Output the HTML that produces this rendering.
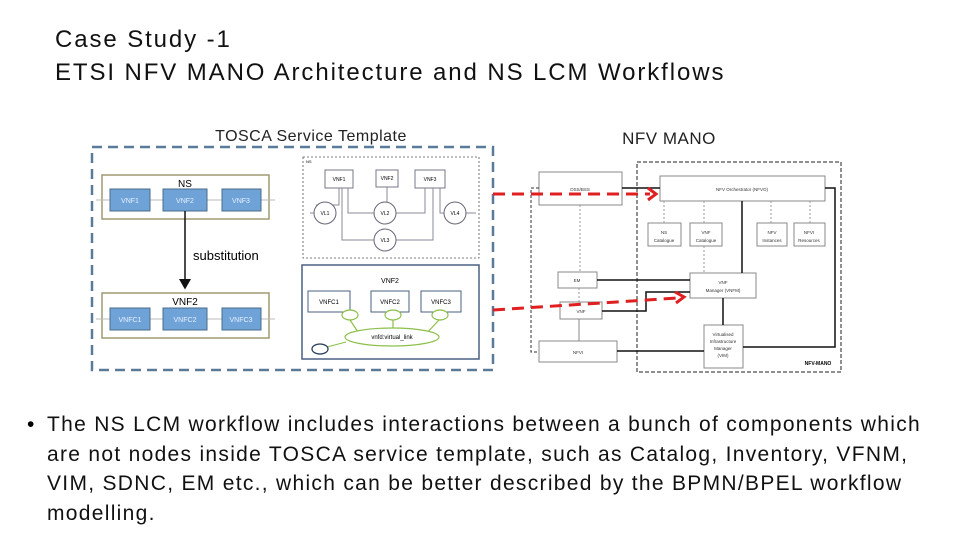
<!DOCTYPE html>
<html><head><meta charset="utf-8"><style>
body{margin:0;width:960px;height:540px;background:#fff;overflow:hidden;font-family:"Liberation Sans",sans-serif;position:relative}
.t{position:absolute;left:55px;font-size:24px;color:#111;line-height:33px;top:23px;letter-spacing:1.9px}
.b{position:absolute;left:47px;top:410px;font-size:21px;line-height:29.5px;color:#111;width:910px;letter-spacing:1.3px;white-space:nowrap}
.bu{position:absolute;left:27px;top:410px;font-size:21px;line-height:29.5px}
</style></head><body>
<div class="t">Case Study -1<br>ETSI NFV MANO Architecture and NS LCM Workflows</div>
<svg width="960" height="540" style="position:absolute;left:0;top:0" font-family="Liberation Sans, sans-serif">
<defs><marker id="a" markerWidth="8" markerHeight="8" refX="6" refY="4" orient="auto"><path d="M0,0 L7,4 L0,8" fill="#111"/></marker></defs>
<text x="311" y="141" font-size="16" text-anchor="middle" fill="#222" letter-spacing="0.5">TOSCA Service Template</text>
<rect x="92" y="147" width="401" height="223" fill="none" stroke="#5a7a99" stroke-width="2.5" stroke-dasharray="10,6"/>
<rect x="102" y="175" width="167" height="44" fill="#fff" stroke="#a09a70" stroke-width="1.5"/>
<text x="185" y="187" font-size="10" text-anchor="middle">NS</text>
<line x1="96" y1="200" x2="275" y2="200" stroke="#bbb"/>
<g fill="#6fa3d8" stroke="#4a6b8a"><rect x="110" y="189" width="40" height="22"/><rect x="163" y="189" width="44" height="22"/><rect x="222" y="189" width="39" height="22"/></g>
<g font-size="7" fill="#e8f0ff" text-anchor="middle"><text x="130" y="203">VNF1</text><text x="185" y="203">VNF2</text><text x="241" y="203">VNF3</text></g>
<rect x="102" y="293" width="167" height="45" fill="#fff" stroke="#a09a70" stroke-width="1.5"/>
<text x="185" y="305" font-size="10" text-anchor="middle">VNF2</text>
<line x1="96" y1="319" x2="275" y2="319" stroke="#bbb"/>
<g fill="#6fa3d8" stroke="#4a6b8a"><rect x="110" y="308" width="40" height="22"/><rect x="163" y="308" width="44" height="22"/><rect x="222" y="308" width="39" height="22"/></g>
<g font-size="7" fill="#e8f0ff" text-anchor="middle"><text x="130" y="322">VNFC1</text><text x="185" y="322">VNFC2</text><text x="241" y="322">VNFC3</text></g>
<line x1="185" y1="211" x2="185" y2="288" stroke="#111" stroke-width="1.5" marker-end="url(#a)"/>
<text x="193" y="260" font-size="13">substitution</text>
<rect x="303" y="157" width="176" height="101" fill="none" stroke="#555" stroke-width="0.8" stroke-dasharray="2,2"/>
<text x="306" y="163" font-size="4">NS</text>
<g fill="#fff" stroke="#778"><rect x="325" y="170" width="28" height="18"/><rect x="376" y="170" width="22" height="17"/><rect x="415" y="170" width="30" height="18"/></g>
<g stroke="#889" fill="none"><path d="M339,188 V205 H316"/><path d="M348,188 V213 H374"/><path d="M342,188 V240 H374"/><path d="M387,187 V202"/><path d="M425,188 V213 H396"/><path d="M433,188 V240 H396"/><path d="M440,188 V213 H444"/><line x1="310" y1="213" x2="314" y2="213"/><line x1="466" y1="213" x2="476" y2="213"/></g>
<g fill="#fff" stroke="#667"><circle cx="325" cy="213" r="11"/><circle cx="385" cy="213" r="11"/><circle cx="385" cy="240" r="11"/><circle cx="455" cy="213" r="11"/></g>
<g font-size="5" text-anchor="middle"><text x="339" y="181">VNF1</text><text x="387" y="180">VNF2</text><text x="430" y="181">VNF3</text><text x="325" y="215">VL1</text><text x="385" y="215">VL2</text><text x="385" y="242">VL3</text><text x="455" y="215">VL4</text></g>
<rect x="302" y="265" width="177" height="94" fill="#fff" stroke="#4a6080" stroke-width="1.5"/>
<text x="390" y="283" font-size="7" text-anchor="middle">VNF2</text>
<g fill="#fff" stroke="#4a6080"><rect x="308" y="291" width="42" height="21"/><rect x="371" y="291" width="38" height="21"/><rect x="421" y="291" width="40" height="21"/></g>
<g font-size="6" text-anchor="middle"><text x="329" y="304">VNFC1</text><text x="390" y="304">VNFC2</text><text x="441" y="304">VNFC3</text></g>
<g stroke="#8cbf4a" fill="#fff" stroke-width="1.2"><line x1="350" y1="320" x2="360" y2="335"/><line x1="393" y1="320" x2="393" y2="330"/><line x1="439" y1="320" x2="425" y2="335"/><ellipse cx="392" cy="337" rx="47" ry="9"/><ellipse cx="350" cy="315" rx="8" ry="5"/><ellipse cx="393" cy="315" rx="8" ry="5"/><ellipse cx="440" cy="315" rx="8" ry="5"/></g>
<line x1="327" y1="347" x2="346" y2="342" stroke="#8cbf4a"/>
<ellipse cx="320" cy="349" rx="8" ry="5" fill="#fff" stroke="#2a3f5f" stroke-width="1.3"/>
<text x="392" y="339" font-size="6" text-anchor="middle">vnfd:virtual_link</text>
<text x="669" y="144" font-size="17" text-anchor="middle" fill="#222" letter-spacing="0.5">NFV MANO</text>
<rect x="637" y="162" width="204" height="210" fill="none" stroke="#222" stroke-dasharray="4,2"/>
<g fill="#fff" stroke="#888"><rect x="539" y="172" width="83" height="33"/><rect x="660" y="176" width="165" height="25"/>
<rect x="648" y="223" width="33" height="23"/><rect x="690" y="223" width="32" height="23"/><rect x="757" y="223" width="30" height="23"/><rect x="794" y="223" width="31" height="23"/>
<rect x="558" y="272" width="39" height="16"/><rect x="560" y="302" width="42" height="17"/><rect x="539" y="341" width="78" height="21"/>
<rect x="690" y="273" width="66" height="25"/><rect x="704" y="325" width="39" height="43"/></g>
<g stroke="#111" fill="none" stroke-width="1.5"><line x1="622" y1="188" x2="660" y2="188"/><line x1="742" y1="201" x2="742" y2="273"/><path d="M825,188 H835 V347 H743"/><line x1="597" y1="280" x2="690" y2="280"/><path d="M602,311 H646 V292 H690"/><line x1="723" y1="298" x2="723" y2="325"/><line x1="617" y1="351" x2="704" y2="351"/></g>
<g stroke="#999" stroke-dasharray="2,2" fill="none"><line x1="580" y1="205" x2="580" y2="272"/><line x1="664" y1="201" x2="664" y2="223"/><line x1="704" y1="201" x2="704" y2="223"/><line x1="704" y1="246" x2="704" y2="273"/><line x1="771" y1="201" x2="771" y2="223"/><line x1="810" y1="201" x2="810" y2="223"/><line x1="579" y1="288" x2="579" y2="302"/></g>
<path d="M539,188 H531 V352 H539" fill="none" stroke="#333" stroke-dasharray="3,2"/>
<line x1="579" y1="319" x2="579" y2="341" stroke="#888"/>
<g font-size="4.5" text-anchor="middle" fill="#333"><text x="580" y="191">OSS/BSS</text><text x="742" y="191">NFV Orchestrator (NFVO)</text><text x="664" y="234">NS</text><text x="664" y="242">Catalogue</text><text x="706" y="234">VNF</text><text x="706" y="242">Catalogue</text><text x="772" y="234">NFV</text><text x="772" y="242">Instances</text><text x="809" y="234">NFVI</text><text x="809" y="242">Resources</text><text x="577" y="282">EM</text><text x="581" y="313">VNF</text><text x="578" y="354">NFVI</text><text x="723" y="284">VNF</text><text x="723" y="292">Manager (VNFM)</text><text x="723" y="336">Virtualised</text><text x="723" y="343">Infrastructure</text><text x="723" y="350">Manager</text><text x="723" y="357">(VIM)</text></g>
<text x="818" y="365" font-size="5" font-weight="bold" text-anchor="middle">NFV-MANO</text>
<g stroke="#e02020" stroke-width="3" stroke-dasharray="12,7" fill="none"><line x1="493" y1="194" x2="650" y2="194"/><line x1="493" y1="310" x2="678" y2="298"/></g>
<g stroke="#e02020" stroke-width="3" fill="none"><path d="M648,188 L656,194 L648,200"/><path d="M675,292 L684,297 L676,303"/></g>
</svg>
<div class="bu">•</div>
<div class="b">The NS LCM workflow includes interactions between a bunch of components which<br>are not nodes inside TOSCA service template, such as Catalog, Inventory, VFNM,<br>VIM, SDNC, EM etc., which can be better described by the BPMN/BPEL workflow<br>modelling.</div>
</body></html>
